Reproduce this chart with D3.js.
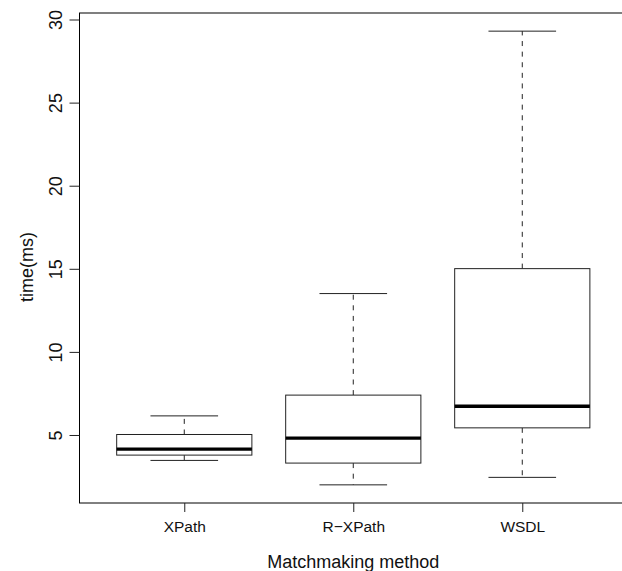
<!DOCTYPE html>
<html>
<head>
<meta charset="utf-8">
<script src="https://d3js.org/d3.v7.min.js"></script>
<style>
  body { margin: 0; background: #fff; }
  svg, svg text { font-family: 'Liberation Sans', Arial, Helvetica, sans-serif; }
  svg { display: block; }
  .frame { fill: none; stroke: #000; stroke-width: 1; }
  .box { fill: #fff; stroke: #222; stroke-width: 1; }
  .median { stroke: #000; stroke-width: 3.4; }
  .whisker { stroke: #222; stroke-width: 1; stroke-dasharray: 5,5.6; }
  .cap { stroke: #222; stroke-width: 1; }
  .tick line { stroke: #222; }
</style>
</head>
<body>
<div id="chart"></div>
<script>
// boxplot statistics
const categories = ['XPath', 'R\u2212XPath', 'WSDL'];
const lowerWhisker = [3.47, 2.0, 2.45];
const lowerQuartile = [3.79, 3.31, 5.43];
const medians = [4.15, 4.81, 6.73];
const upperQuartile = [5.03, 7.40, 15.01];
const upperWhisker = [6.15, 13.51, 29.3];
const yTicks = [5, 10, 15, 20, 25, 30];

const xLabelText = 'Matchmaking method',
  yLabelText = 'time(ms)';

let width = 622,
  height = 571,
  margin = { top: 13, left: 79.5, bottom: 68 };

let boxes = categories.map((c, i) => ({
  name: c,
  pos: i + 1,
  lo: lowerWhisker[i],
  q1: lowerQuartile[i],
  med: medians[i],
  q3: upperQuartile[i],
  hi: upperWhisker[i]
}));

let svg = d3.select('#chart')
  .append('svg')
    .attr('width', width)
    .attr('height', height);

// R style: range extended by 4% on each side
let yMin = d3.min(lowerWhisker),
  yMax = d3.max(upperWhisker),
  pad = (yMax - yMin) * 0.04;

let yScale = d3.scaleLinear()
  .domain([yMin - pad, yMax + pad])
  .range([height - margin.bottom, margin.top]);

let unit = 169;
let xScale = d3.scaleLinear()
  .domain([0.38, 3.62])
  .range([margin.left, margin.left + 3.24 * unit]);

let boxHalf = xScale(1.4) - xScale(1),
  capHalf = xScale(1.2) - xScale(1);

let g = svg.append('g');

let groups = g.selectAll('.group')
  .data(boxes)
  .enter()
  .append('g')
    .attr('class', 'group');

// whiskers
groups.append('line')
    .attr('class', 'whisker')
    .attr('x1', d => xScale(d.pos)).attr('x2', d => xScale(d.pos))
    .attr('y1', d => yScale(d.q3)).attr('y2', d => yScale(d.hi));

groups.append('line')
    .attr('class', 'whisker')
    .attr('x1', d => xScale(d.pos)).attr('x2', d => xScale(d.pos))
    .attr('y1', d => yScale(d.q1)).attr('y2', d => yScale(d.lo));

// caps
groups.selectAll('.cap')
  .data(d => [d.lo, d.hi].map(v => ({ pos: d.pos, v: v })))
  .enter()
  .append('line')
    .attr('class', 'cap')
    .attr('x1', d => xScale(d.pos) - capHalf)
    .attr('x2', d => xScale(d.pos) + capHalf)
    .attr('y1', d => yScale(d.v))
    .attr('y2', d => yScale(d.v));

// boxes
groups.append('rect')
    .attr('class', 'box')
    .attr('x', d => xScale(d.pos) - boxHalf)
    .attr('width', 2 * boxHalf)
    .attr('y', d => yScale(d.q3))
    .attr('height', d => yScale(d.q1) - yScale(d.q3));

groups.append('line')
    .attr('class', 'median')
    .attr('x1', d => xScale(d.pos) - boxHalf)
    .attr('x2', d => xScale(d.pos) + boxHalf)
    .attr('y1', d => yScale(d.med))
    .attr('y2', d => yScale(d.med));

// frame
svg.append('rect')
    .attr('class', 'frame')
    .attr('x', margin.left)
    .attr('y', margin.top)
    .attr('width', xScale(3.62) - margin.left)
    .attr('height', yScale.range()[0] - margin.top);

// X axis
let xAxis = svg.append('g')
    .attr('transform', 'translate(0,' + yScale.range()[0] + ')')
    .call(d3.axisBottom(xScale)
      .tickValues(boxes.map(d => d.pos))
      .tickFormat((d, i) => categories[i])
      .tickSize(9)
      .tickPadding(9));

xAxis.select('.domain').remove();
xAxis.selectAll('text')
    .attr('fill', '#111')
    .style('font-size', '15.5px');

// Y axis, labels rotated like R
let yAxis = svg.append('g')
    .attr('transform', 'translate(' + margin.left + ',0)')
    .call(d3.axisLeft(yScale).tickValues(yTicks).tickSize(10));

yAxis.select('.domain').remove();
yAxis.selectAll('text')
    .attr('x', null).attr('dy', null)
    .attr('fill', '#111')
    .style('font-size', '18px')
    .attr('text-anchor', 'middle')
    .attr('transform', 'translate(-17.5,0) rotate(-90)');

// axis titles
svg.append('text')
    .attr('x', xScale(2))
    .attr('y', 568)
    .attr('text-anchor', 'middle')
    .attr('fill', '#111')
    .style('font-size', '18px')
    .text(xLabelText);

svg.append('text')
    .attr('transform', 'translate(33,' + 267 + ') rotate(-90)')
    .attr('text-anchor', 'middle')
    .attr('fill', '#111')
    .style('font-size', '18px')
    .text(yLabelText);
</script>
</body>
</html>
